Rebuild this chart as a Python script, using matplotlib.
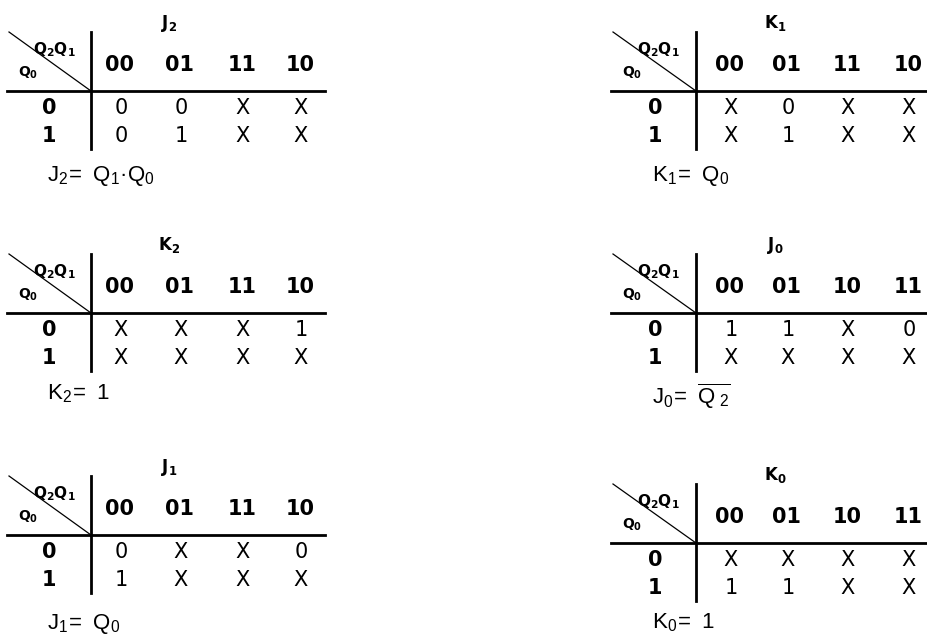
import matplotlib.pyplot as plt

# --- Karnaugh map data ---
titles = ["J_2", "K_1", "K_2", "J_0", "J_1", "K_0"]
col_labels = [
    ["00", "01", "11", "10"],
    ["00", "01", "11", "10"],
    ["00", "01", "11", "10"],
    ["00", "01", "10", "11"],
    ["00", "01", "11", "10"],
    ["00", "01", "10", "11"],
]
row_labels = ["0", "1"]
cells = [
    [["0", "0", "X", "X"], ["0", "1", "X", "X"]],
    [["X", "0", "X", "X"], ["X", "1", "X", "X"]],
    [["X", "X", "X", "1"], ["X", "X", "X", "X"]],
    [["1", "1", "X", "0"], ["X", "X", "X", "X"]],
    [["0", "X", "X", "0"], ["1", "X", "X", "X"]],
    [["X", "X", "X", "X"], ["1", "1", "X", "X"]],
]
equations = [
    r"J_2\!{=}\ Q_1·Q_0",
    r"K_1\!{=}\ Q_0",
    r"K_2\!{=}\ 1",
    r"J_0\!{=}\ \overline{Q\,_2}",
    r"J_1\!{=}\ Q_0",
    r"K_0\!{=}\ 1",
]

# --- Layout (pixels) ---
sides = [
    dict(diag=9, v=91, cols=[120, 180, 242, 300], end=325, rowx=49, title=169, eq=47),
    dict(diag=613, v=696, cols=[730, 787, 847, 908], end=927, rowx=655, title=775, eq=652),
]
hline_y = [91, 91, 313, 313, 535, 543]
eq_y = [176, 176, 394, 396, 624, 623]

BOLD = dict(family="DejaVu Sans", weight="bold", color="black")
REG = dict(family="DejaVu Sans", color="black")
EQ = dict(family="Liberation Sans", color="black")


def m(s):
    return r"$\mathregular{" + s + "}$"


fig = plt.figure(figsize=(9.27, 6.36), dpi=100)
ax = fig.add_axes([0, 0, 1, 1])
ax.set_xlim(0, 927)
ax.set_ylim(636, 0)
ax.axis("off")

for i in range(6):
    s = sides[i % 2]
    hy = hline_y[i]
    top, bot = hy - 59, hy + 58

    ax.plot([s["diag"], s["v"]], [top, hy], color="black", lw=0.9)
    ax.plot([s["v"], s["v"]], [top, bot], color="black", lw=2)
    ax.plot([s["diag"] - 2, s["end"]], [hy, hy], color="black", lw=2)

    ax.text(s["title"], hy - 68, m(titles[i]), ha="center", va="center", fontsize=12, **BOLD)
    ax.text(s["diag"] + 45, hy - 41, m("Q_2Q_1"), ha="center", va="center", fontsize=11, **BOLD)
    ax.text(s["diag"] + 19, hy - 18, m("Q_0"), ha="center", va="center", fontsize=10, **BOLD)

    for j, lab in enumerate(col_labels[i]):
        ax.text(s["cols"][j], hy - 26, lab, ha="center", va="center", fontsize=15, **BOLD)

    for r in range(2):
        y = hy + 17 + r * 28
        ax.text(s["rowx"], y, row_labels[r], ha="center", va="center", fontsize=15, **BOLD)
        for j, val in enumerate(cells[i][r]):
            ax.text(s["cols"][j] + 1, y, val, ha="center", va="center", fontsize=15, **REG)

    ax.text(s["eq"], eq_y[i], m(equations[i]), ha="left", va="center", fontsize=16, **EQ)

fig.savefig("out.png", dpi=100, facecolor="white")
